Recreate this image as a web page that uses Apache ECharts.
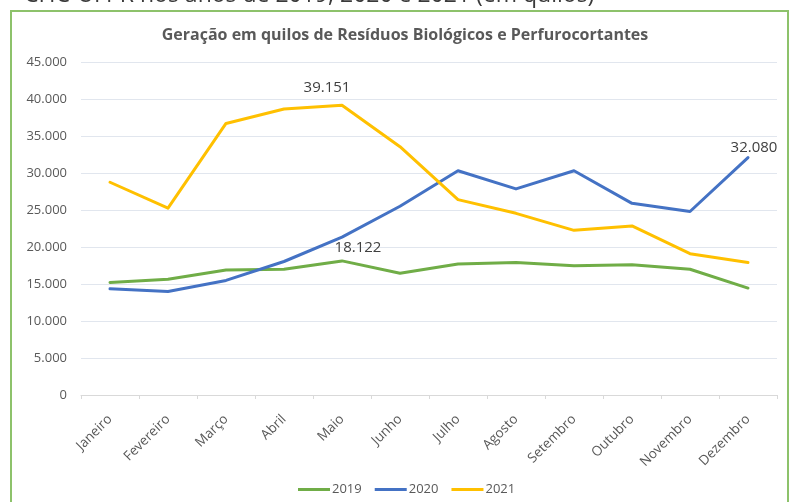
<!DOCTYPE html>
<html>
<head>
<meta charset="utf-8">
<script src="https://cdn.jsdelivr.net/npm/echarts@6/dist/echarts.min.js"></script>
<style>
html,body{margin:0;padding:0;background:#fff;}
#c{width:793px;height:502px;}
</style>
</head>
<body>
<div id="c"></div>
<script>
var months = ['Janeiro','Fevereiro','Março','Abril','Maio','Junho','Julho','Agosto','Setembro','Outubro','Novembro','Dezembro'];
var s2019 = [15200,15650,16900,17000,18122,16450,17700,17900,17450,17600,17000,14450];
var s2020 = [14350,13990,15480,18040,21330,25500,30300,27850,30300,25900,24800,32080];
var s2021 = [28750,25250,36700,38650,39151,33550,26400,24550,22250,22850,19100,17900];
var seriesNames = ['2019','2020','2021'];

function fmt(v){ return String(v).replace(/\B(?=(\d{3})+(?!\d))/g,'.'); }

var chart = echarts.init(document.getElementById('c'), null, {renderer:'canvas'});
var font = '"Open Sans", sans-serif';

function mkSeries(name, vals, color, lblIdx, off){
  return {
    name: name, type: 'line', symbol: 'circle', symbolSize: 1, showSymbol: true, smooth: false,
    lineStyle: {color: color, width: 3, join: 'round', cap: 'round'},
    itemStyle: {color: color},
    z: 3,
    label: {show: false},
    emphasis: {disabled: true},
    data: vals.map(function(v, i){
      if (i === lblIdx) {
        return {value: v, label: {show: true, position: 'top', distance: 5, offset: off,
          formatter: function(p){ return fmt(p.value); },
          color: '#404040', fontSize: 15, fontFamily: font}};
      }
      return v;
    })
  };
}

chart.setOption({
  animation: false,
  backgroundColor: '#fff',
  title: {
    text: 'Geração em quilos de Resíduos Biológicos e Perfurocortantes',
    left: 400, textAlign: 'center', top: 22,
    textStyle: {color: '#595959', fontSize: 16, fontWeight: 'bold', fontFamily: font}
  },
  graphic: [
    {type: 'text', left: 24, top: -16, silent: true,
      style: {text: 'CHC-UFPR nos anos de 2019, 2020 e 2021 (em quilos)', fill: '#3a3a3a',
        font: '23px "Open Sans", sans-serif'}},
    {type: 'rect', silent: true, shape: {x: 11, y: 11, width: 777, height: 520},
      style: {fill: 'none', stroke: '#8dc26b', lineWidth: 2}}
  ],
  legend: {
    data: seriesNames, top: 478, left: 293,
    icon: 'rect', itemWidth: 32, itemHeight: 3, itemGap: 13,
    textStyle: {color: '#595959', fontSize: 13, fontFamily: font, padding: [0,0,0,-3]}
  },
  grid: {left: 81, right: 16, top: 62, bottom: 107, containLabel: false},
  xAxis: {
    type: 'category', data: months, boundaryGap: true,
    axisLine: {lineStyle: {color: '#d9d9d9', width: 1}},
    axisTick: {show: true, length: 4, lineStyle: {color: '#d9d9d9'}},
    axisLabel: {rotate: 45, color: '#595959', fontSize: 13.5, fontFamily: font, margin: 22, interval: 0}
  },
  yAxis: {
    type: 'value', min: 0, max: 45000, interval: 5000,
    axisLine: {show: false}, axisTick: {show: false},
    splitLine: {lineStyle: {color: '#e1e6ee', width: 1}},
    axisLabel: {color: '#595959', fontSize: 13, fontFamily: font, margin: 14,
      formatter: function(v){ return fmt(v); }}
  },
  series: [
    mkSeries(seriesNames[0], s2019, '#70ad47', 4, [16, 0]),
    mkSeries(seriesNames[1], s2020, '#4472c4', 11, [6, 3]),
    mkSeries(seriesNames[2], s2021, '#ffc000', 4, [-15, -5])
  ]
});
</script>
</body>
</html>
